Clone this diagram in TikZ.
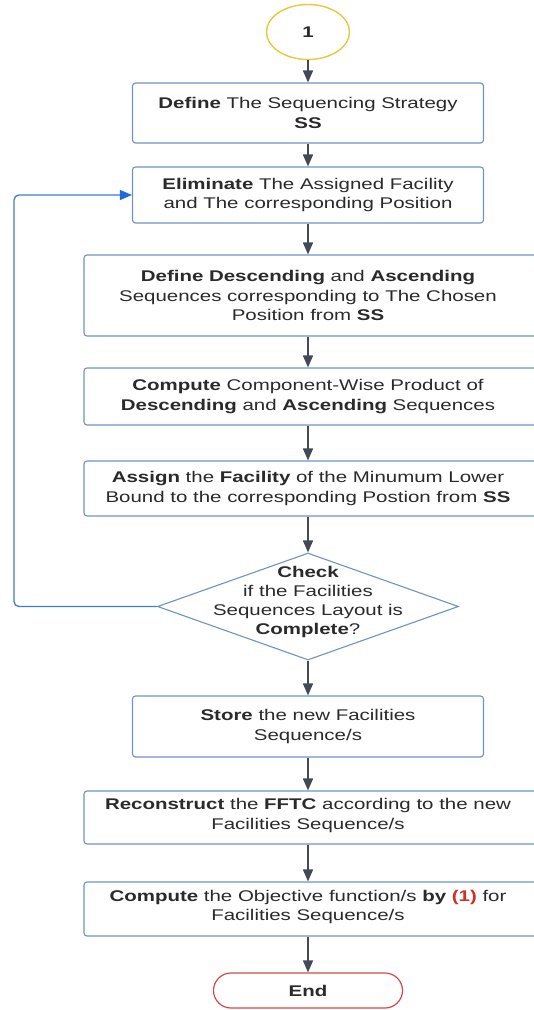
\documentclass[tikz,border=0pt]{standalone}
\usepackage{fontspec}
\setmainfont{Liberation Sans}[FakeStretch=1.32]
\usetikzlibrary{shapes.geometric,shapes.misc,arrows.meta}

\definecolor{boxline}{HTML}{6E93C6}
\definecolor{flowline}{HTML}{434A56}
\definecolor{loopline}{HTML}{3F7CCB}
\definecolor{looptip}{HTML}{1E6BDD}
\definecolor{txtgray}{HTML}{2A2A2A}
\definecolor{startline}{HTML}{E5C93A}
\definecolor{endline}{HTML}{D6484A}
\definecolor{refred}{HTML}{D0302C}

\tikzset{
  procbox/.style={draw=boxline, line width=1.1pt, rounded corners=3pt,
    fill=white, inner sep=0pt},
  label/.style={text=txtgray, align=center, inner sep=0pt,
    font=\fontsize{15.5}{19.3}\selectfont},
  flow/.style={draw=flowline, line width=1.5pt,
    -{Triangle[length=12pt,width=10pt]}},
  loop/.style={draw=loopline, line width=1.3pt, rounded corners=5pt,
    -{Triangle[length=12pt,width=10pt,fill=looptip,color=looptip]}},
}

\begin{document}
\begin{tikzpicture}[x=1pt,y=-1pt]
  \useasboundingbox (0,0) rectangle (534,1010);
  \clip (0,0) rectangle (534,1010);

  % start connector
  \node[ellipse, draw=startline, line width=1.4pt, minimum width=83pt,
    minimum height=55pt, inner sep=0pt] (start) at (308,32) {};
  \node[label] (starttxt) at (start) {\textbf{1}};

  % narrow boxes: centred on the main column
  \node[procbox, minimum width=351pt, minimum height=60pt] (b1) at (308,113) {};
  \node[label] (b1txt) at (b1) {\textbf{Define} The Sequencing Strategy\\\textbf{SS}};

  \node[procbox, minimum width=351pt, minimum height=56pt] (b2) at (308,195) {};
  \node[label] (b2txt) at (b2) {\textbf{Eliminate} The Assigned Facility\\and The corresponding Position};

  % wide boxes: run past the right margin
  \node[procbox, minimum width=460pt, minimum height=81pt] (b3) at (314,295.5) {};
  \node[label] (b3txt) at (308,295.5) {\textbf{Define Descending} and \textbf{Ascending}\\Sequences corresponding to The Chosen\\Position from \textbf{SS}};

  \node[procbox, minimum width=460pt, minimum height=57pt] (b4) at (314,396.5) {};
  \node[label] (b4txt) at (308,396.5) {\textbf{Compute} Component-Wise Product of\\\textbf{Descending} and \textbf{Ascending} Sequences};

  \node[procbox, minimum width=460pt, minimum height=55pt] (b5) at (314,488.5) {};
  \node[label] (b5txt) at (308,488.5) {\textbf{Assign} the \textbf{Facility} of the Minumum Lower\\Bound to the corresponding Postion from \textbf{SS}};

  % decision
  \node[diamond, draw=boxline, line width=1.1pt, fill=white, inner sep=0pt,
    minimum width=301pt, minimum height=107pt] (dec) at (308,606.5) {};
  \node[label] (dectxt) at (308,602) {\textbf{Check}\\if the Facilities\\Sequences Layout is\\\textbf{Complete}?};

  \node[procbox, minimum width=351pt, minimum height=61pt] (b6) at (308,726.5) {};
  \node[label] (b6txt) at (b6) {\textbf{Store} the new Facilities\\Sequence/s};

  \node[procbox, minimum width=460pt, minimum height=53pt] (b7) at (314,817.5) {};
  \node[label] (b7txt) at (308,815.5) {\textbf{Reconstruct} the \textbf{FFTC} according to the new\\Facilities Sequence/s};

  \node[procbox, minimum width=460pt, minimum height=54pt] (b8) at (314,909) {};
  \node[label] (b8txt) at (308,907) {\textbf{Compute} the Objective function/s \textbf{by} \textcolor{refred}{\textbf{(1)}} for\\Facilities Sequence/s};

  % terminator
  \node[rounded rectangle, draw=endline, line width=1.2pt, fill=white,
    minimum width=189pt, minimum height=35pt, inner sep=0pt] (end) at (308,990.5) {};
  \node[label] (endtxt) at (end) {\textbf{End}};

  % main flow
  \draw[flow] (start.south) -- (b1.north);
  \draw[flow] (b1.south) -- (b2.north);
  \draw[flow] (b2.south) -- (b2.south |- b3.north);
  \draw[flow] (b2.south |- b3.south) -- (b2.south |- b4.north);
  \draw[flow] (b2.south |- b4.south) -- (b2.south |- b5.north);
  \draw[flow] (b2.south |- b5.south) -- (dec.north);
  \draw[flow] (dec.south) -- (b6.north);
  \draw[flow] (b6.south) -- (b6.south |- b7.north);
  \draw[flow] (b6.south |- b7.south) -- (b6.south |- b8.north);
  \draw[flow] (b6.south |- b8.south) -- (end.north);

  % feedback loop
  \coordinate (loopx) at (14,0);
  \draw[loop] (dec.west) -- (dec.west -| loopx) -- (loopx |- b2.west) -- (b2.west);
\end{tikzpicture}
\end{document}
